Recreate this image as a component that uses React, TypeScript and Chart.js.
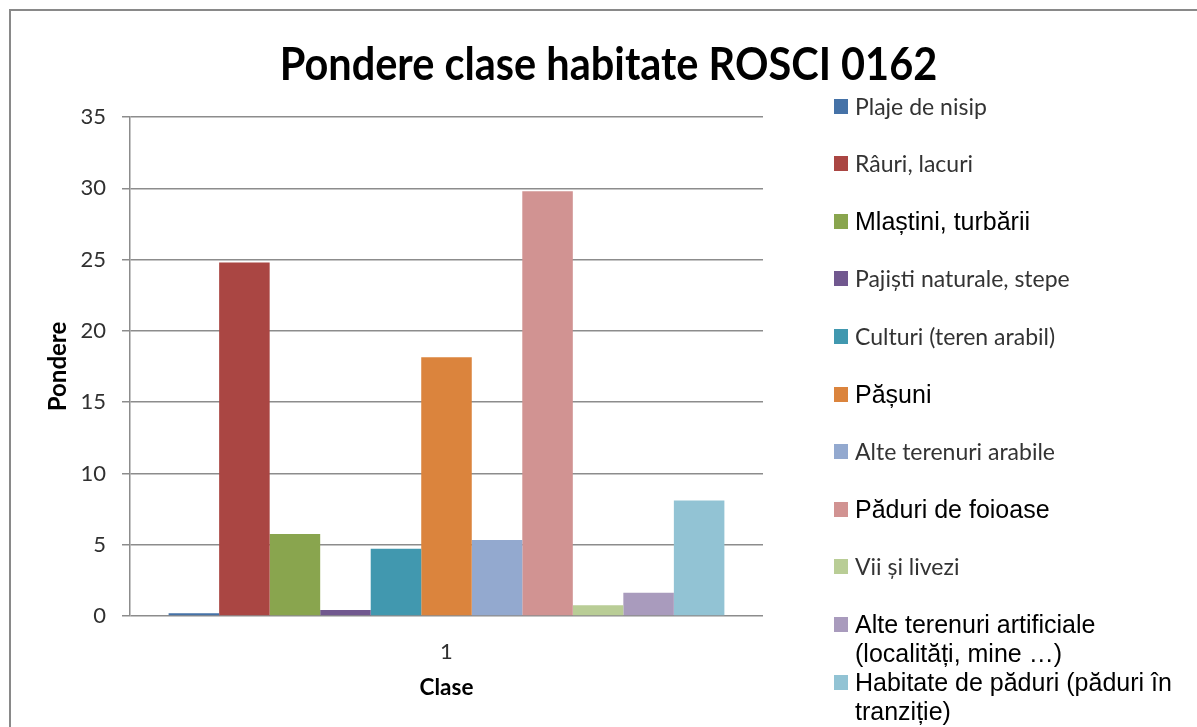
import React, { useEffect, useRef } from "react";
import { Chart, registerables } from "chart.js";

Chart.register(...registerables);

const categories = ["1"];
const seriesNames = [
  "Plaje de nisip",
  "Râuri, lacuri",
  "Mlaștini, turbării",
  "Pajiști naturale, stepe",
  "Culturi (teren arabil)",
  "Pășuni",
  "Alte terenuri arabile",
  "Păduri de foioase",
  "Vii și livezi",
  "Alte terenuri artificiale (localități, mine …)",
  "Habitate de păduri (păduri în tranziție)",
];
const seriesValues = [0.2, 24.8, 5.75, 0.42, 4.72, 18.15, 5.33, 29.8, 0.75, 1.63, 8.1];
const seriesColors = [
  "#4572A7",
  "#AA4643",
  "#89A54E",
  "#71588F",
  "#4198AF",
  "#DB843D",
  "#93A9CF",
  "#D19392",
  "#B9CD96",
  "#A99BBD",
  "#92C3D4",
];
// legend entries rendered in an Arial-like face in the original
const arialLegendItems = [2, 5, 7, 9, 10];
const yTicks = [0, 5, 10, 15, 20, 25, 30, 35];

const OX = 11; // content origin of the bordered box (page coords)
const OY = 11;

export default function App() {
  const canvasRef = useRef<HTMLCanvasElement | null>(null);

  useEffect(() => {
    const canvas = canvasRef.current;
    if (!canvas) return;
    const chart = new Chart(canvas, {
      type: "bar",
      data: {
        labels: categories,
        datasets: seriesNames.map((name, i) => ({
          label: name,
          data: [seriesValues[i]],
          backgroundColor: seriesColors[i],
          borderWidth: 0,
          categoryPercentage: 0.878,
          barPercentage: 1,
        })),
      },
      options: {
        animation: false,
        responsive: false,
        devicePixelRatio: 1,
        layout: { padding: { left: 0, top: 106, right: 434, bottom: 21 } },
        plugins: {
          legend: { display: false },
          title: { display: false },
          tooltip: { enabled: false },
        },
        scales: {
          x: {
            grid: { display: false },
            border: { display: false },
            ticks: {
              color: "#303030",
              font: { family: "Lato", size: 22 },
              padding: 15,
            },
            title: {
              display: true,
              text: "Clase",
              color: "#000",
              font: { family: "Lato", size: 22.5, weight: "bold" },
              padding: { top: 0, bottom: 5 },
            },
            afterFit: (s: any) => {
              s.height = 90;
            },
          },
          y: {
            min: 0,
            max: 35,
            afterBuildTicks: (s: any) => {
              s.ticks = yTicks.map((v) => ({ value: v }));
            },
            grid: {
              color: "#8c8c8c",
              lineWidth: 1.5,
              tickLength: 8,
              drawTicks: true,
            },
            border: { display: true, color: "#8c8c8c", width: 1.5 },
            ticks: {
              color: "#303030",
              font: { family: "Lato", size: 22 },
              padding: 16,
            },
            title: {
              display: true,
              text: "Pondere",
              color: "#000",
              font: { family: "Lato", size: 24, weight: "bold" },
              padding: { top: 33, bottom: 0 },
            },
            afterFit: (s: any) => {
              s.width = 119;
            },
          },
        },
      },
    });
    return () => chart.destroy();
  }, []);

  const legendTop0 = 106; // page y of first legend line centre
  const legendStep = 57.6;
  const lineH = 29;

  return (
    <div
      style={{
        position: "fixed",
        left: 0,
        top: 0,
        width: 1197,
        height: 727,
        overflow: "hidden",
        background: "#fff",
      }}
    >
      <div
        style={{
          position: "absolute",
          left: 9,
          top: 9,
          width: 1300,
          height: 800,
          border: "2px solid #898989",
          background: "#fff",
        }}
      >
        <canvas
          ref={canvasRef}
          width={1186}
          height={716}
          style={{ position: "absolute", left: 0, top: 0, width: 1186, height: 716 }}
        />
        <div
          style={{
            position: "absolute",
            left: 0,
            top: 62 - OY - 21,
            width: 1195,
            textAlign: "center",
            fontFamily: "Lato",
            fontWeight: "bold",
            fontSize: 41.5,
            lineHeight: "42px",
            color: "#000",
            transform: "scaleY(1.12)",
            whiteSpace: "nowrap",
          }}
        >
          Pondere clase habitate ROSCI 0162
        </div>
        {seriesNames.map((name, i) => {
          const arial = arialLegendItems.includes(i);
          const cy = legendTop0 + i * legendStep;
          return (
            <div
              key={name}
              style={{
                position: "absolute",
                left: 834 - OX,
                top: cy - OY - lineH / 2,
                display: "flex",
                alignItems: "flex-start",
              }}
            >
              <div
                style={{
                  width: 14,
                  height: 15,
                  marginTop: (lineH - 15) / 2,
                  background: seriesColors[i],
                  flex: "0 0 auto",
                }}
              />
              <div
                style={{
                  marginLeft: 7,
                  width: 325,
                  fontFamily: arial ? "'Liberation Sans', Arial" : "Lato",
                  fontSize: arial ? 25 : 23,
                  lineHeight: lineH + "px",
                  color: arial ? "#000" : "#333",
                  whiteSpace: "normal",
                }}
              >
                {name}
              </div>
            </div>
          );
        })}
      </div>
    </div>
  );
}
